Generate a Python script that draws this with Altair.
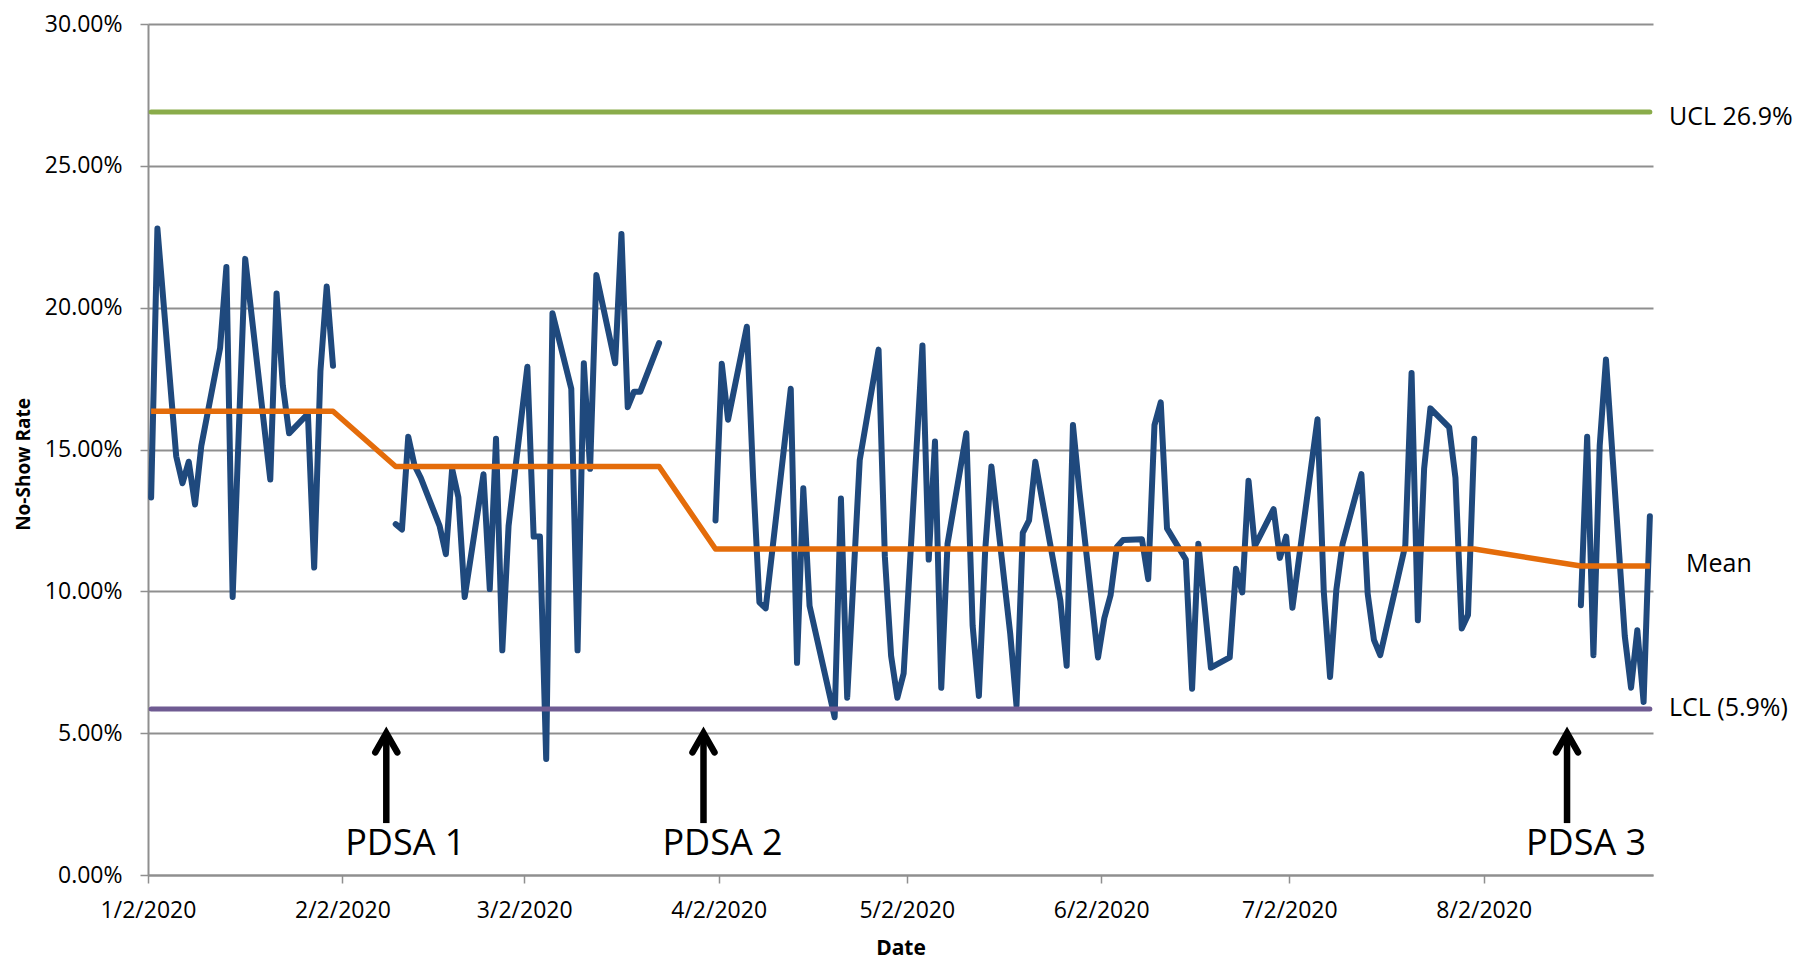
import altair as alt
import pandas as pd

# ---------------- data ----------------
seg1_dates = ["2020-01-02", "2020-01-03", "2020-01-06", "2020-01-07", "2020-01-08", "2020-01-09",
              "2020-01-10", "2020-01-13", "2020-01-14", "2020-01-15", "2020-01-17", "2020-01-21",
              "2020-01-22", "2020-01-23", "2020-01-24", "2020-01-27", "2020-01-28", "2020-01-29",
              "2020-01-30", "2020-01-31"]
seg1_rates = [13.31, 22.79, 14.76, 13.81, 14.57, 13.06, 15.13, 18.58, 21.43, 9.80, 21.72, 13.94,
              20.50, 17.26, 15.57, 16.26, 10.84, 17.77, 20.75, 17.95]

seg2_dates = ["2020-02-10", "2020-02-11", "2020-02-12", "2020-02-13", "2020-02-14", "2020-02-17",
              "2020-02-18", "2020-02-19", "2020-02-20", "2020-02-21", "2020-02-24", "2020-02-25",
              "2020-02-26", "2020-02-27", "2020-02-28", "2020-03-02", "2020-03-03", "2020-03-04",
              "2020-03-05", "2020-03-06", "2020-03-09", "2020-03-10", "2020-03-11", "2020-03-12",
              "2020-03-13", "2020-03-16", "2020-03-17", "2020-03-18", "2020-03-19", "2020-03-20",
              "2020-03-23"]
seg2_rates = [12.37, 12.18, 15.45, 14.44, 14.00, 12.31, 11.31, 14.32, 13.31, 9.80, 14.13, 10.08,
              15.38, 7.92, 12.31, 17.92, 11.93, 11.93, 4.09, 19.80, 17.14, 7.92, 18.04, 14.32,
              21.15, 18.04, 22.60, 16.49, 17.04, 17.04, 18.75]

seg3_dates = ["2020-04-01", "2020-04-02", "2020-04-03", "2020-04-06", "2020-04-07", "2020-04-08",
              "2020-04-09", "2020-04-13", "2020-04-14", "2020-04-15", "2020-04-16", "2020-04-20",
              "2020-04-21", "2020-04-22", "2020-04-24", "2020-04-27", "2020-04-28", "2020-04-29",
              "2020-04-30", "2020-05-01", "2020-05-04", "2020-05-05", "2020-05-06", "2020-05-07",
              "2020-05-08", "2020-05-11", "2020-05-12", "2020-05-13", "2020-05-14", "2020-05-15",
              "2020-05-18", "2020-05-19", "2020-05-20", "2020-05-21", "2020-05-22", "2020-05-26",
              "2020-05-27", "2020-05-28", "2020-05-29", "2020-06-01", "2020-06-02", "2020-06-03",
              "2020-06-04", "2020-06-05", "2020-06-08", "2020-06-09", "2020-06-10", "2020-06-11",
              "2020-06-12", "2020-06-15", "2020-06-16", "2020-06-17", "2020-06-19", "2020-06-22",
              "2020-06-23", "2020-06-24", "2020-06-25", "2020-06-26", "2020-06-29", "2020-06-30",
              "2020-07-01", "2020-07-02", "2020-07-06", "2020-07-07", "2020-07-08", "2020-07-09",
              "2020-07-10", "2020-07-13", "2020-07-14", "2020-07-15", "2020-07-16", "2020-07-20",
              "2020-07-21", "2020-07-22", "2020-07-23", "2020-07-24", "2020-07-27", "2020-07-28",
              "2020-07-29", "2020-07-30", "2020-07-31"]
seg3_rates = [12.50, 18.02, 16.05, 19.33, 14.00, 9.61, 9.40, 17.14, 7.48, 13.63, 9.49, 5.56,
              13.27, 6.25, 14.63, 18.52, 11.24, 7.73, 6.25, 7.10, 18.67, 11.12, 15.28, 6.60,
              11.68, 15.57, 8.80, 6.31, 11.43, 14.40, 8.50, 5.97, 12.06, 12.50, 14.57, 9.67,
              7.38, 15.86, 13.60, 7.67, 9.05, 9.86, 11.56, 11.81, 11.84, 10.43, 15.86, 16.66,
              12.22, 11.12, 6.57, 11.68, 7.31, 7.67, 10.80, 9.96, 13.90, 11.59, 12.90, 11.18,
              11.93, 9.42, 16.07, 9.99, 6.98, 10.05, 11.68, 14.13, 9.92, 8.29, 7.75, 11.62,
              17.70, 8.98, 14.32, 16.45, 15.78, 14.00, 8.69, 9.17, 15.38]

seg4_dates = ["2020-08-17", "2020-08-18", "2020-08-19", "2020-08-20", "2020-08-21", "2020-08-24",
              "2020-08-25", "2020-08-26", "2020-08-27", "2020-08-28"]
seg4_rates = [9.51, 15.45, 7.75, 15.13, 18.17, 8.42, 6.60, 8.63, 6.10, 12.65]

mean_dates = ["2020-01-02", "2020-01-31", "2020-02-10", "2020-03-23", "2020-04-01", "2020-07-31",
              "2020-08-17", "2020-08-28"]
mean_rates = [16.35, 16.35, 14.40, 14.40, 11.49, 11.49, 10.89, 10.89]

limit_names = ["UCL", "LCL"]
limit_rates = [26.9, 5.85]
limit_start = "2020-01-02"
limit_end = "2020-08-28"

right_labels = ["UCL 26.9%", "Mean", "LCL (5.9%)"]

pdsa_labels = ["PDSA 1", "PDSA 2", "PDSA 3"]
pdsa_dates = ["2020-02-09T00:00:00", "2020-03-30T14:00:00", "2020-08-15T07:00:00"]
arrow_tip = 5.0
arrow_base = 1.83
pdsa_text_level = 1.1

x_tick_months = [1, 2, 3, 4, 5, 6, 7, 8]
y_ticks = [0, 5, 10, 15, 20, 25, 30]

# ---------------- styling ----------------
BLUE = "#1F497D"
ORANGE = "#E46C0A"
GREEN = "#8AAC4A"
PURPLE = "#6F5B92"
GRID = "#8F8F8F"
FONT = "Open Sans"

HALF_DAY = pd.Timedelta(hours=12)  # Excel date axis centres each day in its slot


def centred(dates):
    return pd.to_datetime(pd.Series(dates)) + HALF_DAY


segments = [(seg1_dates, seg1_rates), (seg2_dates, seg2_rates),
            (seg3_dates, seg3_rates), (seg4_dates, seg4_rates)]
line_df = pd.concat(
    [pd.DataFrame({"date": centred(d), "rate": r, "seg": i}) for i, (d, r) in enumerate(segments)],
    ignore_index=True)
mean_df = pd.DataFrame({"date": centred(mean_dates), "rate": mean_rates})
limit_df = pd.DataFrame({
    "name": limit_names,
    "rate": limit_rates,
    "date": centred([limit_start] * 2),
    "date2": centred([limit_end] * 2),
})
pdsa_df = pd.DataFrame({
    "label": pdsa_labels,
    "date": pd.to_datetime(pd.Series(pdsa_dates)),
    "tip": [arrow_tip] * 3,
    "base": [arrow_base] * 3,
    "level": [pdsa_text_level] * 3,
})

x_domain = [alt.DateTime(year=2020, month=1, date=2), alt.DateTime(year=2020, month=8, date=29)]
x_scale = alt.Scale(domain=x_domain)
y_scale = alt.Scale(domain=[0, 30], nice=False)

x_axis = alt.Axis(
    values=[alt.DateTime(year=2020, month=m, date=2) for m in x_tick_months],
    format="%-m/%-d/%Y", labelFont=FONT, labelFontSize=23, labelColor="black",
    labelPadding=16, labelBaseline="top", labelFlush=False, labelOverlap=False,
    tickColor=GRID, tickSize=8, tickWidth=1.5, domainColor=GRID, domainWidth=2,
    grid=False, title="Date", titleFont=FONT, titleFontSize=21, titleFontWeight="bold",
    titleColor="black", titleY=73, titleBaseline="middle")
y_axis = alt.Axis(
    values=y_ticks, labelExpr="format(datum.value, '.2f') + '%'",
    labelFont=FONT, labelFontSize=23, labelColor="black", labelPadding=18,
    tickColor=GRID, tickSize=8, tickWidth=1.5, domainColor=GRID, domainWidth=2,
    grid=True, gridColor=GRID, gridWidth=2,
    title="No-Show Rate", titleFont=FONT, titleFontSize=19, titleFontWeight="bold",
    titleColor="black", titleAngle=270, titleX=-125, titleY=440, titleAlign="center",
    titleBaseline="middle")

X = alt.X("date:T", scale=x_scale, axis=x_axis)
Y = alt.Y("rate:Q", scale=y_scale, axis=y_axis)

data_line = alt.Chart(line_df).mark_line(
    color=BLUE, strokeWidth=6, strokeJoin="round", strokeCap="round"
).encode(x=X, y=Y, detail="seg:N")

mean_line = alt.Chart(mean_df).mark_line(
    color=ORANGE, strokeWidth=5.5, strokeJoin="round"
).encode(x=X, y=Y)

limit_lines = alt.Chart(limit_df).mark_rule(strokeWidth=5, strokeCap="round").encode(
    x=X, x2="date2:T", y=Y,
    color=alt.Color("name:N", scale=alt.Scale(domain=limit_names, range=[GREEN, PURPLE]), legend=None))

end_date = alt.DateTime(year=2020, month=8, date=29)


def right_label(text, value, dx, dy):
    return alt.Chart(pd.DataFrame({"t": [text], "rate": [value]})).mark_text(
        align="left", baseline="middle", font=FONT, fontSize=25, color="black", dx=dx, dy=dy
    ).encode(x=alt.datum(end_date), y="rate:Q", text="t:N")


ucl_text = right_label(right_labels[0], limit_rates[0], 16, 5)
mean_text = right_label(right_labels[1], mean_rates[-1], 33, -2)
lcl_text = right_label(right_labels[2], limit_rates[1], 16, -1)

shafts = alt.Chart(pdsa_df).mark_rule(color="black", strokeWidth=6.5, strokeCap="butt").encode(
    x="date:T", y="tip:Q", y2="base:Q")
heads = alt.Chart(pdsa_df).mark_point(
    shape="M -1 1.75 L 0 0 L 1 1.75", size=484, filled=False, color="black",
    strokeWidth=6.5, opacity=1, strokeJoin="miter", strokeCap="round"
).encode(x="date:T", y="tip:Q")
pdsa_text = alt.Chart(pdsa_df).mark_text(
    align="center", baseline="middle", font=FONT, fontSize=36, color="black", dx=19
).encode(x="date:T", y="level:Q", text="label:N")

chart = alt.layer(
    data_line, mean_line, limit_lines, ucl_text, mean_text, lcl_text, shafts, heads, pdsa_text
).properties(
    width=1505, height=851,
    autosize=alt.AutoSizeParams(type="none"),
    padding={"left": 140, "top": 16, "right": 149, "bottom": 84},
    background="white",
).configure_view(stroke=None)

chart.save("out.html", embed_options={"renderer": "svg", "actions": False})
